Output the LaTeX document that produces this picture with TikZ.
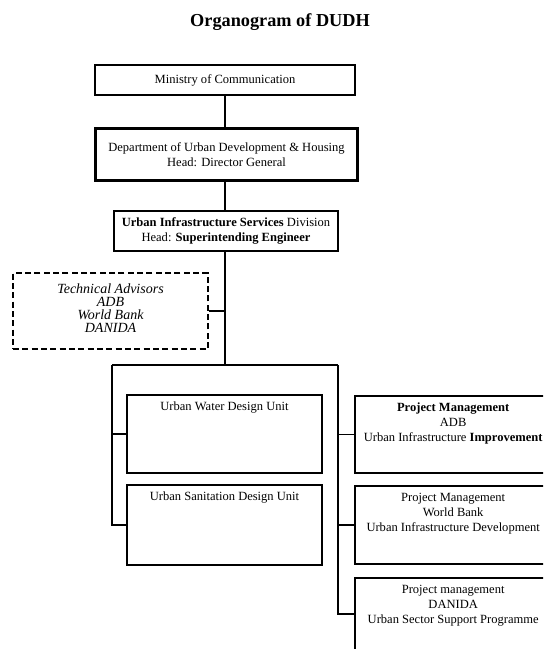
\documentclass[tikz,border=0pt]{standalone}
\usepackage{fontspec}
\setmainfont{Liberation Serif}
\usetikzlibrary{fit}
\begin{document}
\begin{tikzpicture}[x=0.75pt,y=-0.75pt,
  box/.style={draw,line width=1.5pt,inner sep=0pt},
  dbox/.style={draw,line width=1.5pt,dashed,dash pattern=on 4.5pt off 2.5pt,inner sep=0pt},
  tx/.style={font=\fontsize{9.4}{11.2}\selectfont,align=center,inner sep=0pt},
  titx/.style={font=\fontsize{13.7}{16}\selectfont\bfseries,inner sep=0pt},
  conn/.style={line width=0.8pt}]
\useasboundingbox (0,0) rectangle (543,649);
\clip (0,0) rectangle (543,649);

\node[titx] (title) at (280,22) {Organogram of DUDH};

\node[box,fit={(95,65)(355,95)}] (min) {};
\node[tx] (mint) at (min.center) {Ministry of Communication};

\node[box,line width=2pt,fit={(95,128)(358,181)}] (dudh) {};
\draw[line width=0.6pt] ([shift={(3,3)}]dudh.north west) rectangle ([shift={(-3,-3)}]dudh.south east);
\node[tx] (dudht) at (dudh.center) {Department of Urban Development \& Housing\\Head: Director General};

\node[box,fit={(114,211)(338,251)}] (uisd) {};
\node[tx] (uisdt) at (uisd.center) {\textbf{Urban Infrastructure Services} Division\\Head: \textbf{Superintending Engineer}};

\node[dbox,fit={(13,273)(208,349)}] (tech) {};
\node[tx,font=\fontsize{10.5}{9.9}\selectfont\itshape] (techt) at ([yshift=2pt]tech.center) {Technical Advisors\\ADB\\World Bank\\DANIDA};

\node[box,fit={(127,395)(322,473)}] (water) {};
\node[tx,below=6pt] (watert) at (water.north) {Urban Water Design Unit};

\node[box,fit={(127,485)(322,565)}] (san) {};
\node[tx,below=6pt] (sant) at (san.north) {Urban Sanitation Design Unit};

\node[box,fit={(355,396)(562,473)}] (adb) {};
\node[tx,below=6pt,xshift=-4pt] (adbt) at (adb.north) {\textbf{Project Management}\\ADB\\Urban Infrastructure \textbf{Improvement}};

\node[box,fit={(355,486)(562,564)}] (wb) {};
\node[tx,below=6pt,xshift=-4pt] (wbt) at (wb.north) {Project Management\\World Bank\\Urban Infrastructure Development};

\node[box,fit={(355,578)(562,690)}] (dan) {};
\node[tx,below=6pt,xshift=-4pt] (dant) at (dan.north) {Project management\\DANIDA\\Urban Sector Support Programme};

% connectors
\coordinate (btop) at (225,365);
\coordinate (bl) at (112,365);
\coordinate (br) at (338,365);
\coordinate (dstub) at (338,614);
\draw[conn] (min.south) -- (min.south |- dudh.north);
\draw[conn] (min.south |- dudh.south) -- (min.south |- uisd.north);
\draw[conn] (min.south |- uisd.south) -- (btop);
\draw[conn] (tech.east) -- (tech.east -| btop);
\draw[conn] (bl) -- (br);
\draw[conn] (bl) -- (bl |- san.west) -- (san.west);
\draw[conn] (bl |- water.west) -- (water.west);
\draw[conn] (br) -- (dstub) -- (dstub -| dan.west);
\draw[conn] (br |- adb.west) -- (adb.west);
\draw[conn] (br |- wb.west) -- (wb.west);
\end{tikzpicture}
\end{document}
